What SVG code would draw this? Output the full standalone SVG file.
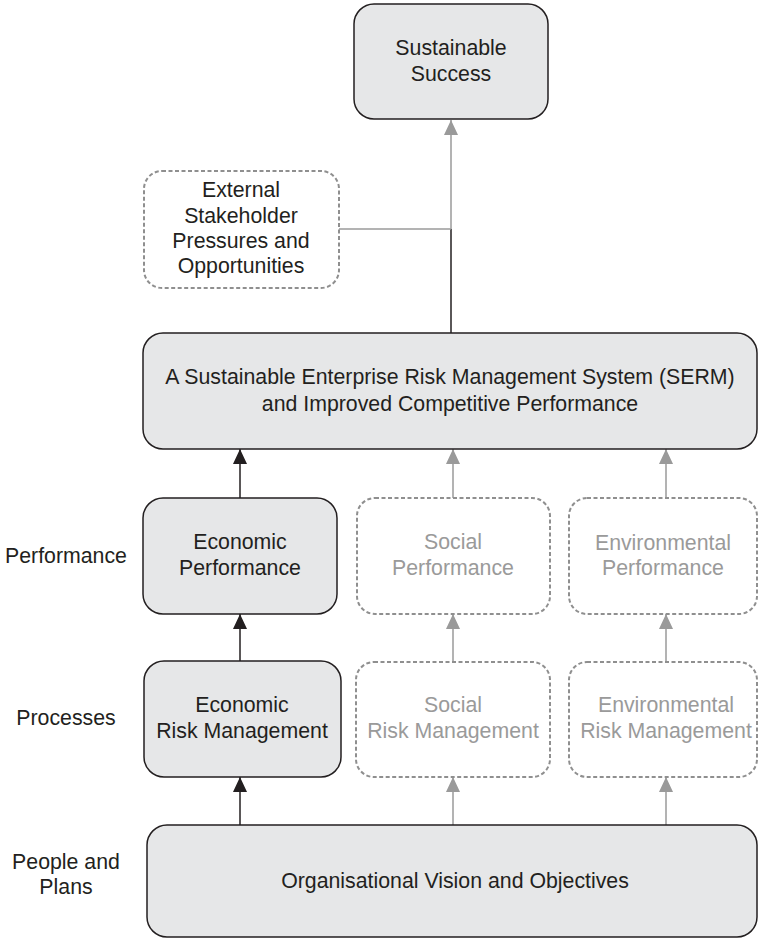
<svg xmlns="http://www.w3.org/2000/svg" width="759" height="940" viewBox="0 0 759 940">
<style>
.solid{fill:#e6e7e8;stroke:#231f20;stroke-width:1.5}
.dash{fill:#ffffff;stroke:#8f8f8f;stroke-width:2;stroke-dasharray:4 2.5}
.ext{fill:#ffffff;stroke:#8f8f8f;stroke-width:2;stroke-dasharray:4 2.5}
text{font-family:"Liberation Sans",Arial,sans-serif;font-size:21.3px;text-anchor:middle}
.t{fill:#231f20}
.g{fill:#9a9a9a}
.lk{stroke:#231f20;stroke-width:1.5;fill:none}
.lg{stroke:#9a9a9a;stroke-width:1.5;fill:none}
</style>
<defs>
<marker id="ak" markerUnits="userSpaceOnUse" markerWidth="16" markerHeight="16" refX="15" refY="7" orient="auto">
<path d="M0,0 L15,7 L0,14 Z" fill="#231f20"/>
</marker>
<marker id="ag" markerUnits="userSpaceOnUse" markerWidth="16" markerHeight="16" refX="15" refY="7" orient="auto">
<path d="M0,0 L15,7 L0,14 Z" fill="#9a9a9a"/>
</marker>
</defs>
<g id="labels">
<text class="t" x="66" y="563">Performance</text>
<text class="t" x="66" y="725">Processes</text>
<text class="t" x="66" y="869">People and</text>
<text class="t" x="66" y="894">Plans</text>
</g>
<g id="connectors">
<line class="lk" x1="240" y1="825" x2="240" y2="777" marker-end="url(#ak)"/>
<line class="lk" x1="240" y1="661" x2="240" y2="614" marker-end="url(#ak)"/>
<line class="lk" x1="240" y1="498" x2="240" y2="449" marker-end="url(#ak)"/>
<line class="lg" x1="453" y1="825" x2="453" y2="777" marker-end="url(#ag)"/>
<line class="lg" x1="453" y1="662" x2="453" y2="614" marker-end="url(#ag)"/>
<line class="lg" x1="453" y1="498" x2="453" y2="449" marker-end="url(#ag)"/>
<line class="lg" x1="666" y1="825" x2="666" y2="777" marker-end="url(#ag)"/>
<line class="lg" x1="666" y1="662" x2="666" y2="614" marker-end="url(#ag)"/>
<line class="lg" x1="666" y1="498" x2="666" y2="449" marker-end="url(#ag)"/>
<line class="lk" x1="451" y1="333" x2="451" y2="229"/>
<line class="lg" x1="451" y1="229" x2="451" y2="120" marker-end="url(#ag)"/>
<line class="lg" x1="339" y1="229" x2="451" y2="229"/>
</g>
<g id="sustainable-success">
<rect class="solid" x="354" y="4" width="194" height="115" rx="20"/>
<text class="t" x="451" y="55">Sustainable</text>
<text class="t" x="451" y="81">Success</text>
</g>
<g id="external">
<rect class="ext" x="144" y="171" width="195" height="117" rx="18"/>
<text class="t" x="241" y="197">External</text>
<text class="t" x="241" y="223">Stakeholder</text>
<text class="t" x="241" y="248">Pressures and</text>
<text class="t" x="241" y="273">Opportunities</text>
</g>
<g id="serm">
<rect class="solid" x="143" y="333" width="614" height="116" rx="20"/>
<text class="t" x="450" y="384">A Sustainable Enterprise Risk Management System (SERM)</text>
<text class="t" x="450" y="411">and Improved Competitive Performance</text>
</g>
<g id="economic-performance">
<rect class="solid" x="143" y="498" width="194" height="116" rx="20"/>
<text class="t" x="240" y="549">Economic</text>
<text class="t" x="240" y="575">Performance</text>
</g>
<g id="social-performance">
<rect class="dash" x="357" y="498" width="193" height="116" rx="18"/>
<text class="g" x="453" y="549">Social</text>
<text class="g" x="453" y="575">Performance</text>
</g>
<g id="environmental-performance">
<rect class="dash" x="569" y="498" width="188" height="116" rx="18"/>
<text class="g" x="663" y="550">Environmental</text>
<text class="g" x="663" y="575">Performance</text>
</g>
<g id="economic-risk">
<rect class="solid" x="144" y="661" width="197" height="116" rx="20"/>
<text class="t" x="242" y="712">Economic</text>
<text class="t" x="242" y="738">Risk Management</text>
</g>
<g id="social-risk">
<rect class="dash" x="356" y="662" width="194" height="115" rx="18"/>
<text class="g" x="453" y="712">Social</text>
<text class="g" x="453" y="738">Risk Management</text>
</g>
<g id="environmental-risk">
<rect class="dash" x="569" y="662" width="188" height="115" rx="18"/>
<text class="g" x="666" y="712">Environmental</text>
<text class="g" x="666" y="738">Risk Management</text>
</g>
<g id="organisational-vision">
<rect class="solid" x="147" y="825" width="610" height="112" rx="20"/>
<text class="t" x="455" y="888">Organisational Vision and Objectives</text>
</g>
</svg>
